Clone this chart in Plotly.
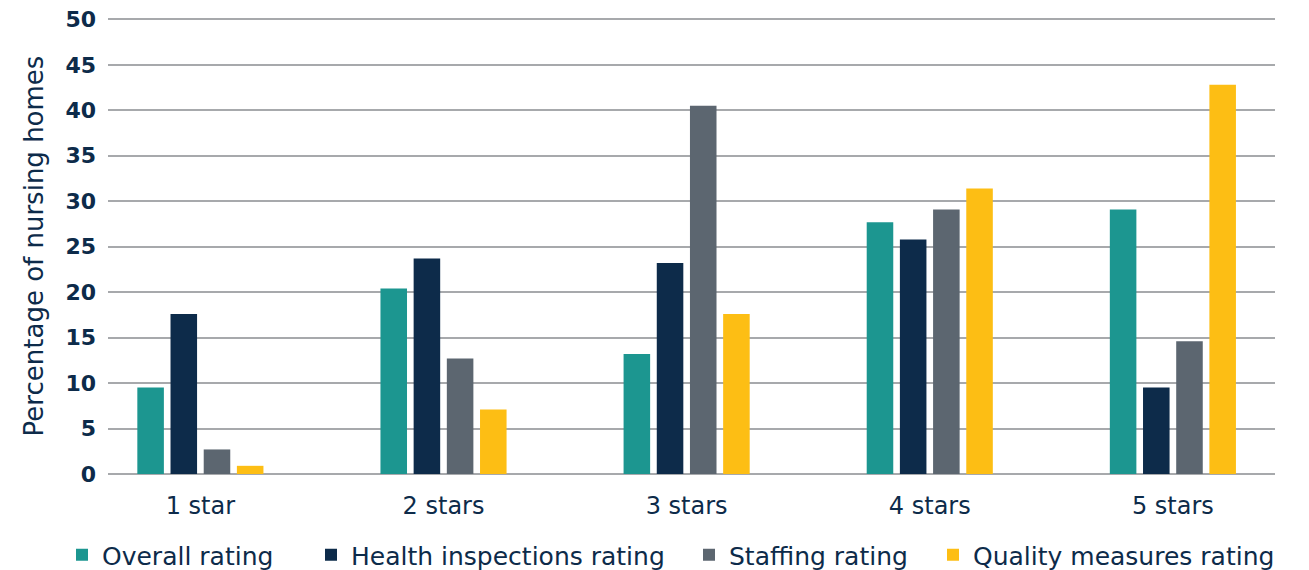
import plotly.graph_objects as go

categories = ["1 star", "2 stars", "3 stars", "4 stars", "5 stars"]
overall = [9.5, 20.4, 13.2, 27.7, 29.1]
health = [17.6, 23.7, 23.2, 25.8, 9.5]
staffing = [2.7, 12.7, 40.5, 29.1, 14.6]
quality = [0.9, 7.1, 17.6, 31.4, 42.8]

series_names = ["Overall rating", "Health inspections rating", "Staffing rating",
                "Quality measures rating"]
series_values = [overall, health, staffing, quality]
series_colors = ["#1C9690", "#0D2B4A", "#5C6670", "#FDBE14"]
legend_ids = ["legend", "legend2", "legend3", "legend4"]
legend_left_px = [54, 303, 681, 925]

FONT = "DejaVu Sans"
NAVY = "#0D2B4A"
# page body has an 8px margin, so the figure is drawn at (8, 8)
W, H = 1301, 562

fig = go.Figure()
for name, vals, col, lid in zip(series_names, series_values, series_colors, legend_ids):
    fig.add_trace(go.Bar(x=categories, y=vals, name=name, marker_color=col,
                         marker_line_width=0, legend=lid))

legend_layout = {}
for lid, lx in zip(legend_ids, legend_left_px):
    legend_layout[lid] = dict(
        orientation="h", xref="container", yref="container",
        x=lx / W, xanchor="left", y=1 - 547 / H, yanchor="middle",
        font=dict(size=25, color=NAVY, family=FONT), itemwidth=30,
        bgcolor="rgba(0,0,0,0)")

fig.update_layout(
    width=W, height=H,
    margin=dict(l=100, r=34, t=10, b=96),
    paper_bgcolor="white", plot_bgcolor="white",
    barmode="group", bargap=0.454, bargroupgap=0.2,
    font=dict(family=FONT, color=NAVY),
    showlegend=True,
    xaxis=dict(range=[-0.38, 4.42], showgrid=False, showline=False, ticks="",
               automargin=False, ticklabelstandoff=15,
               tickfont=dict(size=24, color=NAVY, family=FONT)),
    yaxis=dict(range=[0, 50.15], tickvals=list(range(0, 51, 5)), showgrid=True,
               gridcolor="#A7A9AC", gridwidth=2,
               zeroline=True, zerolinecolor="#A7A9AC", zerolinewidth=2,
               showline=False, ticks="", ticklabelstandoff=11, automargin=False,
               ticklabeloverflow="allow",
               tickfont=dict(size=22, color=NAVY, family=FONT, weight="bold"),
               title=dict(text="Percentage of nursing homes",
                          font=dict(size=26, color=NAVY, family=FONT), standoff=14)),
    **legend_layout,
)

fig.write_html("out.html")
